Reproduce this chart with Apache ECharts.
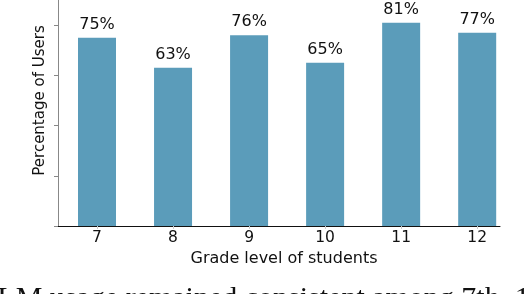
<!DOCTYPE html>
<html>
<head>
<meta charset="utf-8">
<script src="https://cdn.jsdelivr.net/npm/echarts@6/dist/echarts.min.js"></script>
<style>
  html, body { margin: 0; padding: 0; background: #fff; }
  #chart { width: 526px; height: 294px; }
</style>
</head>
<body>
<div id="chart"></div>
<script>
var grades = [7, 8, 9, 10, 11, 12];
var percentUsers = [75, 63, 76, 65, 81, 77];
var yTicks = [0, 20, 40, 60, 80, 100];

var barData = [];
for (var i = 0; i < grades.length; i++) {
    barData.push([grades[i], percentUsers[i]]);
}

var font = 'DejaVu Sans';
var chart = echarts.init(document.getElementById('chart'));
chart.setOption({
    animation: false,
    // top of the plot sits above the picture (100% is cut off)
    grid: {left: 58, right: 26, top: -25, bottom: 68, outerBoundsMode: 'none'},
    xAxis: {
        type: 'value',
        min: 6.487,
        max: 12.3,
        name: 'Grade level of students',
        nameLocation: 'middle',
        nameGap: 19,
        nameTextStyle: {fontFamily: font, fontSize: 16, color: '#111', padding: [0, 0, 0, 10]},
        axisLine: {show: true, lineStyle: {color: '#111', width: 1}},
        axisTick: {show: true, customValues: grades, length: 3, lineStyle: {color: '#ccc'}},
        axisLabel: {customValues: grades, fontFamily: font, fontSize: 15.5, color: '#111', margin: 4},
        splitLine: {show: false}
    },
    yAxis: {
        type: 'value',
        min: yTicks[0],
        max: yTicks[yTicks.length - 1],
        interval: 20,
        name: 'Percentage of Users',
        nameLocation: 'middle',
        nameGap: 10,
        nameTextStyle: {fontFamily: font, fontSize: 15, color: '#111'},
        axisLine: {show: true, lineStyle: {color: '#888', width: 1}},
        axisTick: {show: true, length: 4, lineStyle: {color: '#888'}},
        axisLabel: {show: false},
        splitLine: {show: false}
    },
    series: [{
        type: 'bar',
        data: barData,
        barWidth: 38,
        itemStyle: {color: '#5b9cba'},
        label: {
            show: true,
            position: 'top',
            distance: 5,
            fontFamily: font,
            fontSize: 16,
            color: '#111',
            formatter: function (p) {
                return p.value[1] + '%';
            }
        }
    }],
    graphic: [{
        type: 'text',
        left: -21,
        top: 284,
        style: {
            text: 'LLM usage remained consistent among 7th\u201312th',
            fontFamily: 'Liberation Serif',
            fontSize: 30,
            fill: '#111'
        }
    }]
});
</script>
</body>
</html>
